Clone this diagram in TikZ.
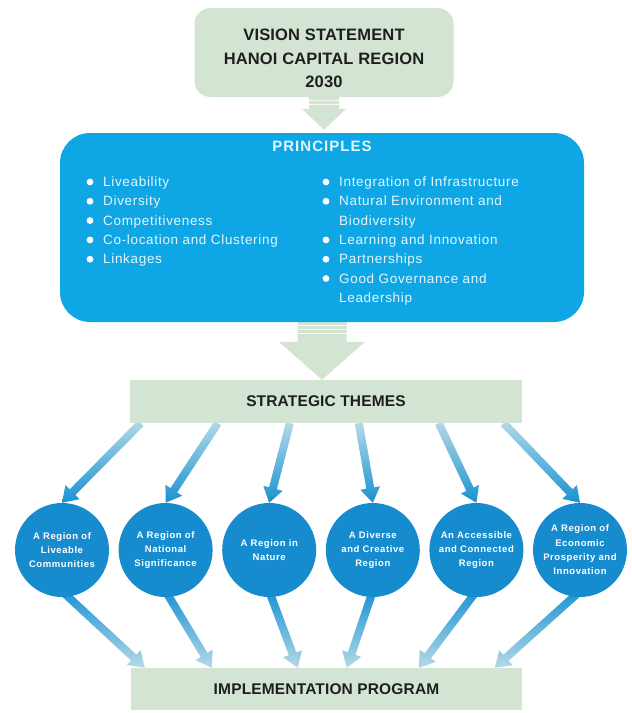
\documentclass[tikz,border=0pt]{standalone}
\usepackage{fontspec}
\setmainfont{Liberation Sans}
\newfontfamily\myhfont[LetterSpace=1]{Liberation Sans}
\newfontfamily\mytfont[LetterSpace=7]{Liberation Sans}
\newfontfamily\mybfont[LetterSpace=5]{Liberation Sans}
\newfontfamily\mycfont[LetterSpace=6]{Liberation Sans}
\usetikzlibrary{calc}
\pgfdeclarelayer{back}
\pgfdeclarelayer{bg}
\pgfsetlayers{back,bg,main}
\definecolor{lgreen}{RGB}{211,228,211}
\definecolor{pblue}{RGB}{14,166,228}
\definecolor{cblue}{RGB}{22,140,206}
\definecolor{adark}{RGB}{24,146,210}
\definecolor{alight}{RGB}{180,217,231}
\definecolor{tdark}{RGB}{30,30,30}
\definecolor{ptext}{RGB}{228,246,253}
% start, tip, half shaft, half head, head length, options
\newcommand\fatarrow[6]{%
  \path[#6] ($(#1)!#3!90:(#2)$) -- ($(#2)!#5!(#1)!#3!90:(#2)$)
    -- ($(#2)!#5!(#1)!#4!90:(#2)$) -- (#2)
    -- ($(#2)!#5!(#1)!#4!-90:(#2)$) -- ($(#2)!#5!(#1)!#3!-90:(#2)$)
    -- ($(#1)!#3!-90:(#2)$) -- cycle;}
\begin{document}
\begin{tikzpicture}[x=1pt,y=-1pt,
  gbox/.style={rectangle, fill=lgreen, inner sep=0, text=tdark},
  hd/.style={font=\myhfont\bfseries\fontsize{15.5}{18}\selectfont},
  btxt/.style={anchor=base west, inner sep=0, text=ptext, font=\mybfont\fontsize{13.5}{16}\selectfont},
  circ/.style={circle, fill=cblue, minimum size=94pt, inner sep=0, align=center, text=white, font=\mycfont\bfseries\fontsize{9.5}{14.3}\selectfont},
  uparr/.style={top color=alight, bottom color=adark},
  dnarr/.style={top color=adark, bottom color=alight},
  garr/.style={fill=lgreen},
  stripe/.style={draw=white, line width=1.1pt, opacity=.8}]
\begin{pgfonlayer}{back}
\fill[white] (0,0) rectangle (632,713);
\end{pgfonlayer}
\useasboundingbox (0,0) rectangle (632,713);

% vision statement
\node[gbox, rounded corners=16pt, minimum width=259pt, minimum height=89pt] (vs) at (324,52.5) {};
\node[align=center, text=tdark, inner sep=0, font=\myhfont\bfseries\fontsize{16.5}{23.3}\selectfont] (vst) at (324,58.6) {VISION STATEMENT\\HANOI CAPITAL REGION\\2030};

% principles
\node[rectangle, rounded corners=30pt, fill=pblue, minimum width=524pt, minimum height=189pt, inner sep=0] (pr) at (322,227.5) {};
\node[inner sep=0, text=ptext, font=\mytfont\bfseries\fontsize{15}{18}\selectfont] (prt) at (322,146) {PRINCIPLES};

\foreach \t [count=\i from 0] in {Liveability,Diversity,Competitiveness,Co-location and Clustering,Linkages}{
  \node[btxt] (l\i) at (103,186.5+19.3*\i) {\t};
  \fill[white] (90,182+19.3*\i) circle (3.4);
}
\foreach \t [count=\i from 0] in {Integration of Infrastructure,Natural Environment and,Biodiversity,Learning and Innovation,Partnerships,Good Governance and,Leadership}{
  \node[btxt] (r\i) at (339,186.5+19.3*\i) {\t};
}
\foreach \i in {0,1,3,4,5}{
  \fill[white] (326,182+19.3*\i) circle (3.4);
}

% strategic themes & implementation
\node[gbox, hd, minimum width=392pt, minimum height=43pt] (st) at (326,401.5) {STRATEGIC THEMES};
\node[gbox, hd, minimum width=391pt, minimum height=42pt] (im) at (326.5,689) {IMPLEMENTATION PROGRAM};

% theme circles
\node[circ] (c1) at (62,550) {A Region of\\Liveable\\Communities};
\node[circ] (c2) at (165.6,550) {A Region of\\National\\Significance};
\node[circ] (c3) at (269.2,550) {A Region in\\Nature};
\node[circ] (c4) at (372.8,550) {A Diverse\\and Creative\\Region};
\node[circ] (c5) at (476.4,550) {An Accessible\\and Connected\\Region};
\node[circ] (c6) at (580,550) {A Region of\\Economic\\Prosperity and\\Innovation};

\begin{pgfonlayer}{bg}
% big green arrows
\coordinate (ta) at ($(vs.south |- pr.north)+(0,-3)$);
\fatarrow{vs.south}{ta}{15pt}{22pt}{21pt}{garr}
\draw[stripe] ($(vs.south)+(-15,3.5)$) -- ++(30,0);
\draw[stripe] ($(vs.south)+(-15,7.5)$) -- ++(30,0);
\coordinate (tb) at (pr.south |- st.north);
\fatarrow{pr.south}{tb}{24.5pt}{43pt}{38pt}{garr}
\foreach \d in {3.5,7.5,11.5}
  \draw[stripe] ($(pr.south)+(-24.5,\d)$) -- ++(49,0);

% arrows from strategic themes to circles
\foreach \n/\dx in {1/11,2/88,3/160,4/229,5/309,6/374}{
  \coordinate (s\n) at ($(st.south west)+(\dx,0)$);
  \fatarrow{s\n}{c\n.north}{4pt}{10pt}{15pt}{uparr}
}
% arrows from circles to implementation program
\foreach \n/\dx in {1/14,2/81,3/167,4/216,5/288,6/364}{
  \coordinate (b\n) at ($(c\n.south)+(0,-6)$);
  \coordinate (e\n) at ($(im.north west)+(\dx,0)$);
  \fatarrow{b\n}{e\n}{4pt}{10pt}{15pt}{dnarr}
}
\end{pgfonlayer}
\end{tikzpicture}
\end{document}
